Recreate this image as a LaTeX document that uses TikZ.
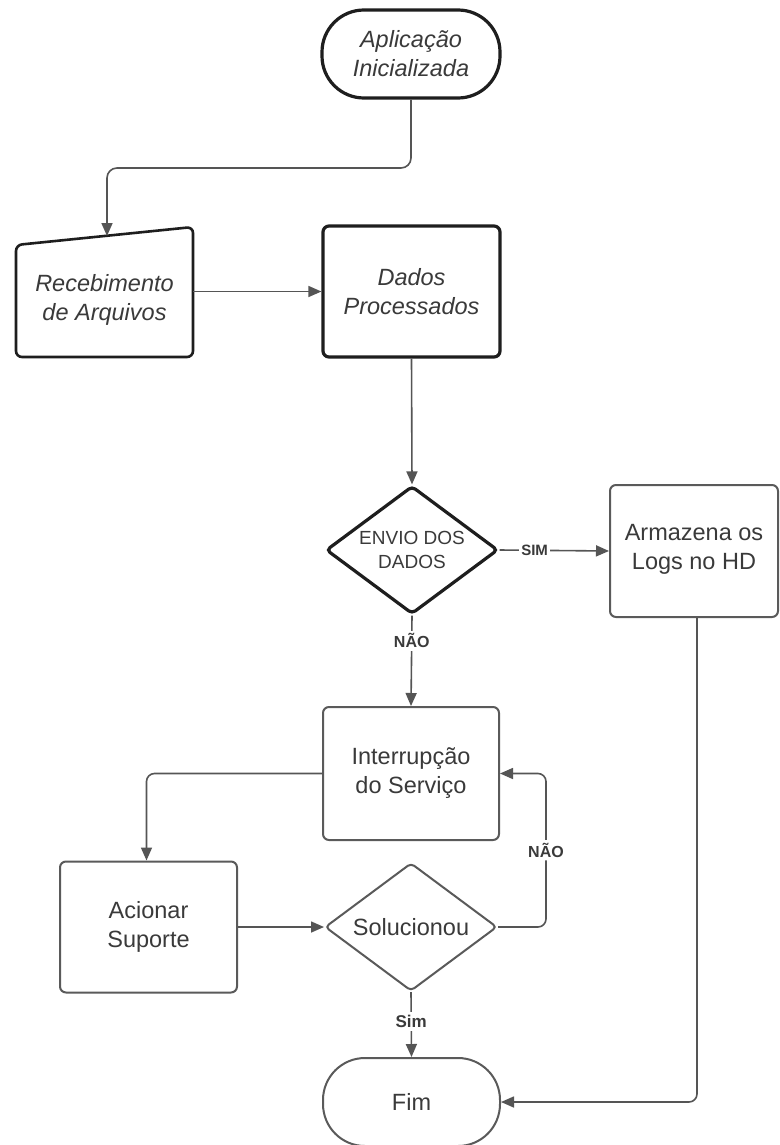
\documentclass[tikz,border=0pt]{standalone}
\usepackage{fontspec}
\setmainfont{Liberation Sans}
\usetikzlibrary{arrows.meta,shapes.geometric,calc}
\definecolor{ink}{HTML}{1E1E1E}
\definecolor{edge}{HTML}{5A5A5A}
\definecolor{txt}{HTML}{3A3A3A}
\definecolor{wire}{HTML}{555555}

\begin{document}
\begin{tikzpicture}[x=1pt,y=-1pt,
  every node/.style={font=\fontsize{23.5}{29}\selectfont, text=txt, align=center, inner sep=0pt},
  heavy/.style={draw=ink, line width=3.2pt},
  light/.style={draw=edge, line width=2pt},
  box/.style={rectangle, rounded corners=6pt, minimum width=177pt, minimum height=131pt},
  term/.style={rectangle, rounded corners=42pt, minimum width=178pt, minimum height=88pt},
  decision/.style={diamond, shape aspect=1.34, rounded corners=4pt, minimum width=172pt, minimum height=128pt},
  conn/.style={draw=wire, line width=1.6pt, -{Triangle[length=13pt,width=11pt]}},
  lbl/.style={font=\fontsize{16}{18}\selectfont\bfseries, fill=white, inner sep=3pt}]

\useasboundingbox[fill=white] (0,0) rectangle (779,1145);

% process nodes
\node[term, heavy] (start) at (411,54) {\itshape Aplicação\\\itshape Inicializada};

% manual input shape
\draw[draw=ink, line width=2.6pt, rounded corners=6pt]
  (16,245) -- (193,227) -- (193,357) -- (16,357) -- cycle;
\node[rectangle, minimum width=177pt, minimum height=112pt] (rec) at (104.5,300)
  {\itshape Recebimento\\\itshape de Arquivos};
\coordinate (recin) at (107,236);

\node[box, heavy] (dados) at (411.5,291.5) {\itshape Dados\\\itshape Processados};
\node[decision, heavy, font=\fontsize{19}{24}\selectfont] (envio) at (412,550) {ENVIO DOS\\DADOS};
\node[box, light, minimum width=168pt, minimum height=132pt, text depth=8pt] (arm) at (694,551) {Armazena os\\Logs no HD};
\node[box, light, minimum width=176pt, minimum height=133pt] (interr) at (411,773.5) {Interrupção\\do Serviço};
\node[box, light] (acion) at (148.5,927) {Acionar\\Suporte};
\node[decision, light] (sol) at (411,927) {Solucionou};
\node[term, light, minimum width=177pt] (fim) at (411.5,1102) {Fim};

% connectors
\draw[conn, rounded corners=10pt] (start.south) |- ($(recin)+(0,-68)$) -- (recin);
\draw[conn] (rec.east |- dados.west) -- (dados.west);
\draw[conn] (dados.south) -- (envio.north);
\draw[conn] (envio.east) -- node[lbl, pos=0.32, font=\fontsize{15}{17}\selectfont\bfseries, inner sep=2pt] {SIM} (arm.west);
\draw[conn] (envio.south) -- node[lbl, pos=0.28] {NÃO} (interr.north);
\draw[conn, rounded corners=8pt] (interr.west) -| ($(acion.north)+(-2,0)$);
\draw[conn] (acion.east) -- (sol.west);
\draw[conn, rounded corners=8pt] (sol.east) -| node[lbl, pos=0.75] {NÃO} ($(interr.east)+(46,0)$) -- (interr.east);
\draw[conn] (sol.south) -- node[lbl, pos=0.45, font=\fontsize{17}{19}\selectfont\bfseries] {Sim} (fim.north);
\draw[conn, rounded corners=8pt] ($(arm.south)+(3,0)$) |- (fim.east);
\end{tikzpicture}
\end{document}
